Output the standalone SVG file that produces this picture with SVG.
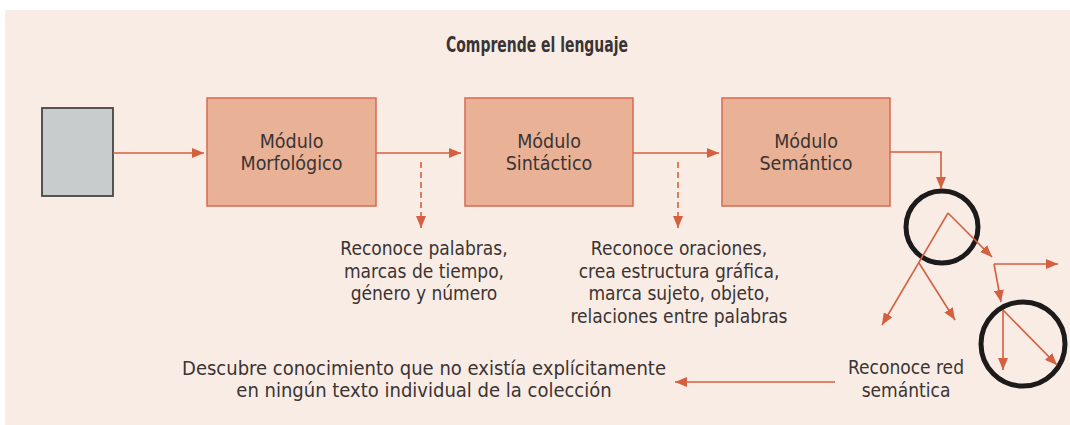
<svg xmlns="http://www.w3.org/2000/svg" width="1070" height="425" viewBox="0 0 1070 425">
<defs>
<style>
.t{font-family:"DejaVu Sans Condensed","DejaVu Sans",sans-serif;font-stretch:condensed;fill:#3a3434;text-anchor:middle;font-size:19px}
.t.title{font-weight:bold;font-size:21px}
.t.m{font-size:19.5px}
.t.d{font-size:20px}
.mod{fill:#e9b196;stroke:#d86a50;stroke-width:1.5}
.ln{stroke:#d4603f;stroke-width:1.6;fill:none}
.ds{stroke-dasharray:6 4}
.circ{fill:none;stroke:#1c1a1a;stroke-width:5}
</style>
<marker id="ah" viewBox="0 0 12 10" refX="12" refY="5" markerWidth="12" markerHeight="10" markerUnits="userSpaceOnUse" orient="auto">
<path d="M0,0 L12,5 L0,10 Z" fill="#d4603f"/>
</marker>
</defs>
<rect x="0" y="0" width="1070" height="425" fill="#ffffff"/>
<rect x="5" y="10" width="1065" height="415" fill="#f9ece5"/>
<text class="t title" x="537" y="52" textLength="182" lengthAdjust="spacingAndGlyphs">Comprende el lenguaje</text>
<g id="input"><rect x="42" y="108" width="71" height="88" fill="#c9cccd" stroke="#444" stroke-width="1.8"/></g>
<g id="morfologico"><rect class="mod" x="207" y="98" width="169" height="108"/>
<text class="t m" x="291.5" y="148">Módulo</text><text class="t m" x="291.5" y="170">Morfológico</text></g>
<g id="sintactico"><rect class="mod" x="465" y="98" width="168" height="108"/>
<text class="t m" x="549" y="148">Módulo</text><text class="t m" x="549" y="170">Sintáctico</text></g>
<g id="semantico"><rect class="mod" x="722" y="98" width="168" height="108"/>
<text class="t m" x="806" y="148">Módulo</text><text class="t m" x="806" y="170">Semántico</text></g>
<g id="nota-morf"><text class="t" x="424" y="255">Reconoce palabras,</text><text class="t" x="424" y="277.5">marcas de tiempo,</text><text class="t" x="424" y="300">género y número</text></g>
<g id="nota-sint"><text class="t" x="679" y="255">Reconoce oraciones,</text><text class="t" x="679" y="277.5">crea estructura gráfica,</text><text class="t" x="679" y="300">marca sujeto, objeto,</text><text class="t" x="679" y="322.5">relaciones entre palabras</text></g>
<g id="red"><circle class="circ" cx="942" cy="227" r="36"/><circle class="circ" cx="1023" cy="344" r="42"/>
<text class="t" x="906" y="374">Reconoce red</text><text class="t" x="906" y="397">semántica</text></g>
<g id="descubre"><text class="t d" x="424" y="375">Descubre conocimiento que no existía explícitamente</text><text class="t d" x="424" y="397">en ningún texto individual de la colección</text></g>
<g id="connectors">
<path class="ln" d="M113,153 H204" marker-end="url(#ah)"/>
<path class="ln" d="M376,153 H461" marker-end="url(#ah)"/>
<path class="ln" d="M633,153 H719" marker-end="url(#ah)"/>
<path class="ln ds" d="M421,162 V228" marker-end="url(#ah)"/>
<path class="ln ds" d="M678,162 V228" marker-end="url(#ah)"/>
<path class="ln" d="M890,152 H941 V189" marker-end="url(#ah)"/>
<path class="ln" d="M948,213 L882,325" marker-end="url(#ah)"/>
<path class="ln" d="M948,213 L992,257" marker-end="url(#ah)"/>
<path class="ln" d="M919,263 L955,320" marker-end="url(#ah)"/>
<path class="ln" d="M994,264 H1058" marker-end="url(#ah)"/>
<path class="ln" d="M994,264 L1001,302" marker-end="url(#ah)"/>
<path class="ln" d="M1003,310 V370" marker-end="url(#ah)"/>
<path class="ln" d="M1003,310 L1057,365" marker-end="url(#ah)"/>
<path class="ln" d="M835,382 H675" marker-end="url(#ah)"/>
</g>
</svg>
